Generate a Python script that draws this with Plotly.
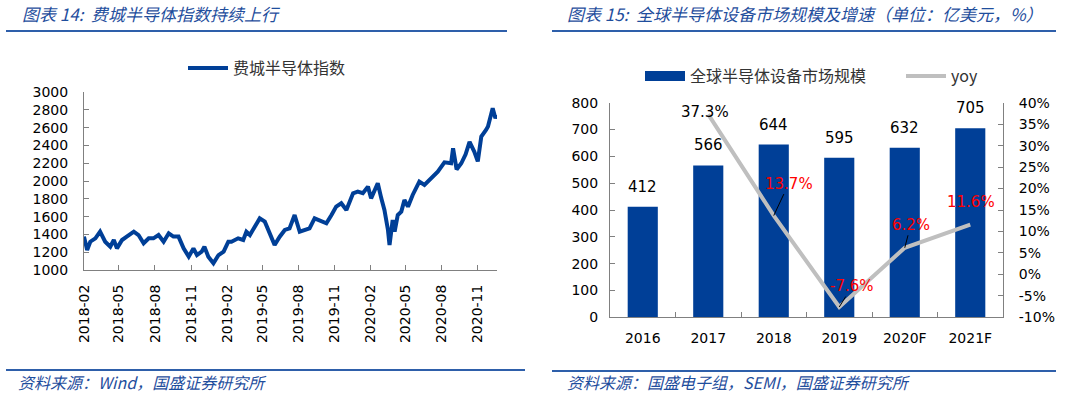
import plotly.graph_objects as go

# ---------------- data ----------------
sox_dates = [
    "2018-02-01", "2018-02-09", "2018-02-17", "2018-03-02", "2018-03-14", "2018-03-27",
    "2018-04-09", "2018-04-18", "2018-04-26", "2018-05-09", "2018-05-21", "2018-06-08",
    "2018-06-20", "2018-07-03", "2018-07-16", "2018-07-28", "2018-08-10", "2018-08-23",
    "2018-09-05", "2018-09-17", "2018-09-30", "2018-10-13", "2018-10-26", "2018-11-07",
    "2018-11-16", "2018-11-28", "2018-12-05", "2018-12-15", "2018-12-28", "2019-01-10",
    "2019-01-23", "2019-02-04", "2019-02-12", "2019-03-01", "2019-03-14", "2019-03-22",
    "2019-03-31", "2019-04-12", "2019-04-25", "2019-05-08", "2019-05-21", "2019-06-02",
    "2019-06-15", "2019-06-28", "2019-07-10", "2019-07-23", "2019-08-05", "2019-08-18",
    "2019-08-30", "2019-09-12", "2019-09-29", "2019-10-12", "2019-10-25", "2019-11-06",
    "2019-11-19", "2019-12-02", "2019-12-19", "2019-12-31", "2020-01-13", "2020-01-26",
    "2020-02-03", "2020-02-20", "2020-02-29", "2020-03-08", "2020-03-17", "2020-03-21",
    "2020-03-29", "2020-04-03", "2020-04-11", "2020-04-20", "2020-04-28", "2020-05-07",
    "2020-05-19", "2020-06-05", "2020-06-18", "2020-07-05", "2020-07-22", "2020-08-08",
    "2020-08-25", "2020-08-30", "2020-09-08", "2020-09-20", "2020-10-01", "2020-10-11",
    "2020-10-23", "2020-11-01", "2020-11-10", "2020-11-22", "2020-11-27", "2020-12-09",
    "2020-12-16", "2020-12-19",
]
sox_values = [
    1375, 1225, 1318, 1356, 1431, 1318,
    1262, 1337, 1243, 1337, 1375, 1431,
    1393, 1300, 1356, 1356, 1393, 1318,
    1412, 1375, 1375, 1243, 1150, 1243,
    1168, 1206, 1262, 1150, 1075, 1168,
    1206, 1318, 1318, 1356, 1337, 1430,
    1393, 1487, 1580, 1543, 1393, 1281,
    1374, 1450, 1468, 1618, 1430, 1450,
    1468, 1580, 1543, 1525, 1618, 1712,
    1750, 1675, 1862, 1880, 1862, 1937,
    1805, 1974, 1805, 1675, 1450, 1281,
    1562, 1431, 1618, 1656, 1787, 1712,
    1843, 1993, 1955, 2030, 2105, 2210,
    2199, 2367, 2130, 2199, 2300, 2440,
    2330, 2220, 2500, 2574, 2612, 2818,
    2705, 2743,
]
sox_name = "费城半导体指数"

years = ["2016", "2017", "2018", "2019", "2020F", "2021F"]
market_size = [412, 566, 644, 595, 632, 705]
yoy = [None, 0.373, 0.137, -0.076, 0.062, 0.116]
bar_name = "全球半导体设备市场规模"
line_name = "yoy"

left_tickvals = [1000, 1200, 1400, 1600, 1800, 2000, 2200, 2400, 2600, 2800, 3000]
bar_tickvals = [0, 100, 200, 300, 400, 500, 600, 700, 800]
yoy_tickvals = [-0.10, -0.05, 0.0, 0.05, 0.10, 0.15, 0.20, 0.25, 0.30, 0.35, 0.40]
yoy_ticktext = ["-10%", "-5%", "0%", "5%", "10%", "15%", "20%", "25%", "30%", "35%", "40%"]

# ---------------- style ----------------
NUM = "DejaVu Sans"
CJK = "Noto Sans CJK SC"
BLUE = "#003F97"
GREY_LINE = "#BFBFBF"
AXIS = "#808080"
TITLE_BLUE = "#1F4E9D"
RULE_BLUE = "#2E5FAA"
W, H = 1080, 395

def px(x):
    return x / W

def py(y):
    return 1 - y / H

fig = go.Figure()

fig.add_trace(go.Scatter(
    x=sox_dates, y=sox_values, mode="lines", name=sox_name,
    line=dict(color=BLUE, width=4), xaxis="x", yaxis="y", legend="legend",
))

fig.add_trace(go.Bar(
    x=years, y=market_size, name=bar_name, marker=dict(color=BLUE, line=dict(width=0)),
    width=0.46, xaxis="x2", yaxis="y2", showlegend=False,
))
# legend entry for the bars drawn as a wide block (legend-only, no data)
fig.add_trace(go.Scatter(
    x=[None], y=[None], mode="lines", name=bar_name,
    line=dict(color=BLUE, width=12), xaxis="x2", yaxis="y2", legend="legend2",
))
fig.add_trace(go.Scatter(
    x=years, y=yoy, mode="lines", name=line_name,
    line=dict(color=GREY_LINE, width=4), xaxis="x2", yaxis="y3", legend="legend3",
))

annotations = []
# bar value labels (category index used as annotation x)
for i, v in enumerate(market_size):
    annotations.append(dict(
        x=i, y=v, xref="x2", yref="y2", text=str(v), showarrow=False,
        yanchor="middle", yshift=20, font=dict(family=NUM, size=15, color="#000000"),
    ))

# yoy labels: (dx, dy, arrow, colour)
label_style = {
    "2017": (-3, -2, False, "#000000"),
    "2018": (15, -32, True, "#FF0000"),
    "2019": (13, -21, True, "#FF0000"),
    "2020F": (6, -23, True, "#FF0000"),
    "2021F": (1, -23, False, "#FF0000"),
}
for i, (cat, v) in enumerate(zip(years, yoy)):
    if v is None:
        continue
    dx, dy, arrow, col = label_style[cat]
    txt = f"{v * 100:.1f}%"
    if arrow:
        annotations.append(dict(
            x=i, y=v, xref="x2", yref="y3", text=txt, showarrow=True,
            ax=dx, ay=dy, arrowhead=0, arrowwidth=1,
            arrowcolor="#000000", standoff=0, startstandoff=0,
            font=dict(family=NUM, size=15, color=col),
        ))
    else:
        annotations.append(dict(
            x=i, y=v, xref="x2", yref="y3", text=txt, showarrow=False,
            xshift=dx, yshift=-dy, font=dict(family=NUM, size=15, color=col),
        ))

# titles and sources
annotations += [
    dict(x=px(20), y=py(14), xref="paper", yref="paper", xanchor="left", yanchor="middle",
         showarrow=False, text="<i>图表 14:  费城半导体指数持续上行</i>",
         font=dict(family=CJK, size=17, color=TITLE_BLUE)),
    dict(x=px(565), y=py(14), xref="paper", yref="paper", xanchor="left", yanchor="middle",
         showarrow=False, text="<i>图表 15:  全球半导体设备市场规模及增速（单位：亿美元，%）</i>",
         font=dict(family=CJK, size=17, color=TITLE_BLUE)),
    dict(x=px(16), y=py(382), xref="paper", yref="paper", xanchor="left", yanchor="middle",
         showarrow=False, text="<i>资料来源：Wind，国盛证券研究所</i>",
         font=dict(family=CJK, size=16, color=TITLE_BLUE)),
    dict(x=px(565), y=py(382), xref="paper", yref="paper", xanchor="left", yanchor="middle",
         showarrow=False, text="<i>资料来源：国盛电子组，SEMI，国盛证券研究所</i>",
         font=dict(family=CJK, size=16, color=TITLE_BLUE)),
]

shapes = [
    dict(type="line", xref="paper", yref="paper", x0=px(6), x1=px(507), y0=py(31), y1=py(31),
         line=dict(color=RULE_BLUE, width=2)),
    dict(type="line", xref="paper", yref="paper", x0=px(552), x1=px(1056), y0=py(31), y1=py(31),
         line=dict(color=RULE_BLUE, width=2)),
    dict(type="line", xref="paper", yref="paper", x0=px(6), x1=px(525), y0=py(370), y1=py(370),
         line=dict(color=RULE_BLUE, width=2)),
    dict(type="line", xref="paper", yref="paper", x0=px(552), x1=px(1056), y0=py(371), y1=py(371),
         line=dict(color=RULE_BLUE, width=2)),
]

axis_common = dict(showgrid=False, zeroline=False, showline=True, linecolor=AXIS, linewidth=1,
                   ticks="inside", tickcolor=AXIS, ticklen=5, automargin=False,
                   tickfont=dict(family=NUM, size=14, color="#000000"))

legend_common = dict(xanchor="left", yanchor="middle", bgcolor="rgba(0,0,0,0)",
                     itemwidth=40, font=dict(family=CJK, size=16, color="#333333"))

fig.update_layout(
    width=W, height=H, margin=dict(l=0, r=0, t=0, b=0, autoexpand=False),
    paper_bgcolor="white", plot_bgcolor="white",
    showlegend=True,
    xaxis=dict(domain=[px(84), px(497)], anchor="y", type="date",
               range=["2018-02-01", "2020-12-20"], tick0="2018-02-01", dtick="M3",
               tickformat="%Y-%m", tickangle=-90, ticklabelstandoff=8, **axis_common),
    yaxis=dict(domain=[py(270), py(92)], anchor="x", range=[1000, 3000],
               tickvals=left_tickvals, ticklabelstandoff=12, **axis_common),
    xaxis2=dict(domain=[px(610), px(1003)], anchor="y2", type="category",
                tickson="boundaries", range=[-0.5, 5.5], tickangle=0,
                ticklabelstandoff=8, **axis_common),
    yaxis2=dict(domain=[py(317.3), py(102.7)], anchor="x2", range=[0, 800],
                tickvals=bar_tickvals, ticklabelstandoff=8, **axis_common),
    yaxis3=dict(overlaying="y2", anchor="x2", side="right", range=[-0.10, 0.40],
                tickvals=yoy_tickvals, ticktext=yoy_ticktext, ticklabelstandoff=12, **axis_common),
    legend=dict(x=px(183), y=py(68), **legend_common),
    legend2=dict(x=px(640), y=py(76), **legend_common),
    legend3=dict(x=px(901), y=py(76), **legend_common),
    annotations=annotations,
    shapes=shapes,
)

fig.write_html("out.html", config={"displayModeBar": False},
               post_script="document.body.style.margin='0';")
